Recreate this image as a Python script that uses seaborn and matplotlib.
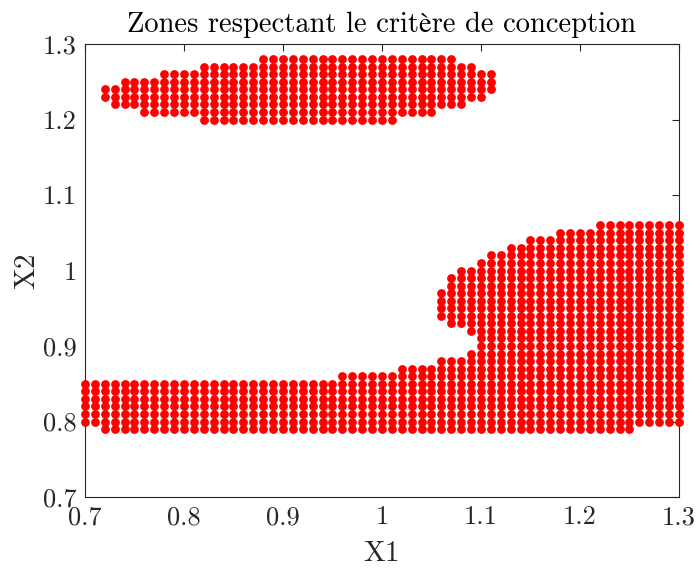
import numpy as np
import pandas as pd
import matplotlib
matplotlib.use("Agg")
import matplotlib.pyplot as plt
from matplotlib.ticker import FixedLocator, FuncFormatter
import seaborn as sns

# Feasible design points on a 0.01 grid, stored as column runs:
# (X1 start, X1 end, X2 low, X2 high)
lower_zone = [
    (0.70, 0.71, 0.80, 0.85),
    (0.72, 0.95, 0.79, 0.85),
    (0.96, 1.01, 0.79, 0.86),
    (1.02, 1.05, 0.79, 0.87),
    (1.06, 1.08, 0.79, 0.88),
    (1.09, 1.09, 0.79, 0.89),
    (1.10, 1.10, 0.79, 1.01),
    (1.11, 1.12, 0.79, 1.02),
    (1.13, 1.14, 0.79, 1.03),
    (1.15, 1.17, 0.79, 1.04),
    (1.18, 1.21, 0.79, 1.05),
    (1.22, 1.25, 0.79, 1.06),
    (1.26, 1.30, 0.80, 1.06),
]

middle_lobe = [
    (1.06, 1.06, 0.94, 0.97),
    (1.07, 1.07, 0.93, 0.99),
    (1.08, 1.08, 0.93, 1.00),
    (1.09, 1.09, 0.92, 1.00),
]

upper_zone = [
    (0.72, 0.72, 1.23, 1.24),
    (0.73, 0.73, 1.22, 1.24),
    (0.74, 0.75, 1.22, 1.25),
    (0.76, 0.77, 1.21, 1.25),
    (0.78, 0.81, 1.21, 1.26),
    (0.82, 0.87, 1.20, 1.27),
    (0.88, 1.01, 1.20, 1.28),
    (1.02, 1.05, 1.21, 1.28),
    (1.06, 1.07, 1.22, 1.28),
    (1.08, 1.08, 1.22, 1.27),
    (1.09, 1.09, 1.23, 1.27),
    (1.10, 1.10, 1.23, 1.26),
    (1.11, 1.11, 1.24, 1.26),
]

grid_step = 0.01
axis_ticks = [0.7, 0.8, 0.9, 1.0, 1.1, 1.2, 1.3]


def expand(runs):
    pts = []
    for x0, x1, y0, y1 in runs:
        nx = int(round((x1 - x0) / grid_step)) + 1
        ny = int(round((y1 - y0) / grid_step)) + 1
        for i in range(nx):
            for j in range(ny):
                pts.append((round(x0 + i * grid_step, 2), round(y0 + j * grid_step, 2)))
    return pts


points = expand(lower_zone) + expand(middle_lobe) + expand(upper_zone)
df = pd.DataFrame(points, columns=["X1", "X2"])

sns.set_theme(style="white")
plt.rcParams["font.family"] = ["cmr10", "STIXGeneral"]
plt.rcParams["axes.formatter.use_mathtext"] = True
plt.rcParams["mathtext.fontset"] = "cm"

ink = "#262626"
fig = plt.figure(figsize=(6.96, 5.74), dpi=100)
ax = fig.add_axes([0.1221, 0.1341, 0.8534, 0.7892])

sns.scatterplot(data=df, x="X1", y="X2", color="#ff0000", s=40, linewidth=0,
                ax=ax, legend=False, clip_on=False, zorder=3)

ax.set_xlim(0.7, 1.3)
ax.set_ylim(0.7, 1.3)
fmt = FuncFormatter(lambda v, p: f"{v:g}")
for axis in (ax.xaxis, ax.yaxis):
    axis.set_major_locator(FixedLocator(axis_ticks))
    axis.set_major_formatter(fmt)

ax.tick_params(direction="in", top=True, right=True, length=5, width=0.8,
               color=ink, labelcolor=ink, labelsize=19, pad=6)
for sp in ax.spines.values():
    sp.set_color(ink)
    sp.set_linewidth(0.8)

ax.set_xlabel("X1", fontsize=21, color=ink, labelpad=8)
ax.set_ylabel("X2", fontsize=21, color=ink, labelpad=2)
ax.set_title("Zones respectant le critère de conception", fontsize=20.5,
             color="black", pad=9)

fig.savefig("out.png", dpi=100)
